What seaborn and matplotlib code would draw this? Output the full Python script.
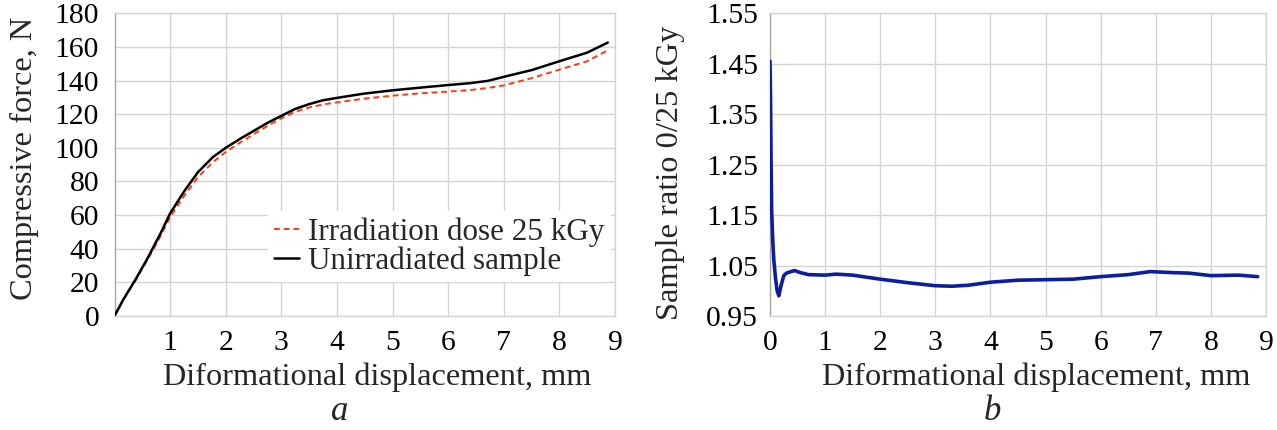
import matplotlib
matplotlib.use("Agg")
import matplotlib.pyplot as plt
import seaborn as sns
import pandas as pd

# ---- data ----
disp_unirr = [0.0, 0.16, 0.38, 0.60, 0.82, 1.0, 1.26, 1.5, 1.77, 2.0, 2.28, 2.5, 2.76, 3.0, 3.24, 3.5,
              3.75, 4.0, 4.48, 5.0, 5.5, 6.02, 6.38, 6.71, 7.01, 7.51, 8.0, 8.5, 8.87]
force_unirr = [0.0, 9.9, 21.8, 34.7, 48.6, 61.0, 74.5, 85.5, 94.5, 100.0, 105.8, 110.0, 115.0, 119.0, 123.0,
               126.0, 128.3, 129.7, 132.2, 134.2, 135.8, 137.4, 138.4, 139.8, 142.3, 146.3, 151.5, 156.6, 162.6]

disp_irr = [0.0, 0.16, 0.38, 0.60, 0.82, 1.0, 1.26, 1.5, 1.77, 2.0, 2.28, 2.5, 2.76, 3.0, 3.24, 3.5,
            3.75, 4.0, 4.48, 5.0, 5.5, 6.02, 6.38, 6.71, 7.01, 7.51, 8.0, 8.5, 8.87]
force_irr = [0.0, 9.7, 21.3, 33.8, 47.0, 58.8, 71.8, 82.5, 91.5, 97.5, 103.6, 108.0, 113.2, 117.5, 121.3,
             124.0, 125.8, 127.0, 129.2, 131.0, 132.4, 133.5, 134.3, 135.6, 137.2, 141.5, 146.5, 151.5, 158.0]

disp_ratio = [0.0, 0.01, 0.02, 0.03, 0.05, 0.07, 0.1, 0.13, 0.16, 0.2, 0.25, 0.3, 0.38, 0.45, 0.55, 0.7,
              1.0, 1.2, 1.5, 2.0, 2.5, 3.0, 3.3, 3.6, 4.0, 4.5, 5.0, 5.5, 6.0, 6.5, 6.9, 7.3, 7.6, 8.0, 8.5, 8.85]
ratio = [1.455, 1.38, 1.25, 1.16, 1.10, 1.06, 1.025, 1.00, 0.99, 1.01, 1.03, 1.035, 1.038, 1.040, 1.036, 1.032,
         1.031, 1.033, 1.031, 1.023, 1.016, 1.010, 1.009, 1.011, 1.017, 1.021, 1.022, 1.023, 1.028, 1.032,
         1.038, 1.036, 1.035, 1.030, 1.031, 1.028]

left_yticks = [0, 20, 40, 60, 80, 100, 120, 140, 160, 180]
left_xticks = [1, 2, 3, 4, 5, 6, 7, 8, 9]
right_yticks = [0.95, 1.05, 1.15, 1.25, 1.35, 1.45, 1.55]
right_xticks = [0, 1, 2, 3, 4, 5, 6, 7, 8, 9]

label_irr = "Irradiation dose 25 kGy"
label_unirr = "Unirradiated sample"
xlabel_text = "Diformational displacement, mm"
ylabel_left = "Compressive force, N"
ylabel_right = "Sample ratio 0/25 kGy"

# ---- style ----
sns.set_theme(style="whitegrid")
plt.rcParams['font.family'] = ['Liberation Serif', 'DejaVu Serif']
TICK_FS = 21.3
LABEL_FS = 23.3
LEG_FS = 22.4
PANEL_FS = 25
GRID = "#d4d4d4"

fig = plt.figure(figsize=(12.77, 4.30), dpi=100)
W, H = 1277.0, 430.0
TOP, BOT = 13.3, 316.0
ax1 = fig.add_axes([114.5 / W, 1 - BOT / H, (615 - 114.5) / W, (BOT - TOP) / H])
ax2 = fig.add_axes([770 / W, 1 - BOT / H, (1266 - 770) / W, (BOT - TOP) / H])

df_irr = pd.DataFrame({"x": disp_irr, "y": force_irr})
df_un = pd.DataFrame({"x": disp_unirr, "y": force_unirr})
df_ratio = pd.DataFrame({"x": disp_ratio, "y": ratio})

sns.lineplot(data=df_irr, x="x", y="y", ax=ax1, color="#ff3a10", lw=1.4,
             linestyle=(0, (3, 2)), label=label_irr, sort=False, zorder=3)
sns.lineplot(data=df_un, x="x", y="y", ax=ax1, color="black", lw=1.8,
             label=label_unirr, sort=False, zorder=4)
sns.lineplot(data=df_ratio, x="x", y="y", ax=ax2, color="#0c1e9e", lw=2.6,
             sort=False, zorder=3)

for ax in (ax1, ax2):
    ax.set_facecolor("white")
    ax.grid(True, color=GRID, lw=1.0)
    for s in ax.spines.values():
        s.set_color(GRID)
        s.set_linewidth(1.0)
    ax.spines['left'].set_color("#a8a8a8")
    ax.tick_params(axis='both', length=0, labelsize=TICK_FS, colors="black")
    ax.tick_params(axis='x', pad=10)

ax1.tick_params(axis='y', pad=11)
ax2.tick_params(axis='y', pad=8.6)

ax1.set_xlim(0, 9)
ax1.set_ylim(0, 180)
ax1.set_xticks(left_xticks)
ax1.set_yticks(left_yticks)

ax2.set_xlim(0, 9)
ax2.set_ylim(0.95, 1.55)
ax2.set_xticks(right_xticks)
ax2.set_yticks(right_yticks)
ax2.set_yticklabels([f"{v:.2f}" for v in right_yticks])

for ax, xfrac, ylab, yx, yy in ((ax1, 0.5245, ylabel_left, -0.179, 0.522),
                                (ax2, 0.536, ylabel_right, -0.200, 0.474)):
    ax.set_xlabel(xlabel_text, fontsize=LABEL_FS)
    ax.xaxis.label.set_va("baseline")
    ax.xaxis.set_label_coords(xfrac, (BOT - 385) / (BOT - TOP))
    ax.set_ylabel(ylab, fontsize=LABEL_FS)
    ax.yaxis.label.set_va("center")
    ax.yaxis.set_label_coords(yx, yy)

leg = ax1.legend(loc="upper left", bbox_to_anchor=(268 / W, 1 - 211 / H),
                 bbox_transform=fig.transFigure, frameon=True,
                 fontsize=LEG_FS, handlelength=0.8, handletextpad=0.3,
                 labelspacing=0.0, borderpad=0.2, borderaxespad=0.0)
leg.get_frame().set_facecolor("white")
leg.get_frame().set_edgecolor("none")
leg.get_frame().set_alpha(1.0)

fig.text(340 / W, 1 - 428 / H, "a", fontsize=PANEL_FS, style="italic", ha="center", va="bottom")
fig.text(992 / W, 1 - 428 / H, "b", fontsize=PANEL_FS, style="italic", ha="center", va="bottom")

fig.savefig("out.png", dpi=100, facecolor="white")
